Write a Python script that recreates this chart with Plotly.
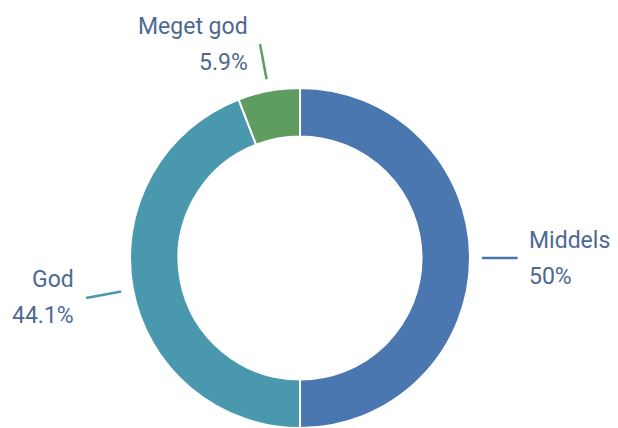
"""Donut chart: rating distribution."""

import math

import plotly.graph_objects as go

labels = ["Middels", "God", "Meget god"]
counts = [17, 15, 2]
colors = ["#4a77b0", "#4a98ad", "#5f9c5f"]

# page body has an 8px margin, so figure px = screen px - 8
W, H = 610, 420
CX, CY, R = 292, 250, 170
TEXT_COLOR = "#4c6a91"

fig = go.Figure()
fig.add_trace(
    go.Pie(
        labels=labels,
        values=counts,
        hole=0.715,
        sort=False,
        direction="clockwise",
        rotation=0,
        textinfo="none",
        hoverinfo="label+percent",
        marker=dict(colors=colors, line=dict(color="white", width=2)),
        domain=dict(x=[(CX - R) / W, (CX + R) / W],
                    y=[(H - CY - R) / H, (H - CY + R) / H]),
        showlegend=False,
    )
)

# leader lines + labels, placed from each slice's mid angle
total = sum(counts)
start = 0.0
for lab, val, col in zip(labels, counts, colors):
    frac = val / total
    mid = (start + frac / 2) * 2 * math.pi
    start += frac
    dx, dy = math.sin(mid), -math.cos(mid)
    x0, y0 = CX + dx * R * 1.07, CY + dy * R * 1.07
    x1, y1 = CX + dx * R * 1.28, CY + dy * R * 1.28
    fig.add_trace(
        go.Scatter(
            x=[x0, x1], y=[y0, y1], mode="lines",
            line=dict(color=col, width=2.5), hoverinfo="skip", showlegend=False,
        )
    )
    right = dx > 0
    pct = f"{frac * 100:.1f}".rstrip("0").rstrip(".") + "%"
    for txt, shift in [(lab, 18), (pct, -18)]:
        fig.add_annotation(
            x=x1, y=y1, text=txt, showarrow=False,
            xanchor="left" if right else "right", yanchor="middle",
            xshift=9 if right else -10, yshift=shift,
            font=dict(family="Roboto", size=23, color=TEXT_COLOR),
        )

fig.update_xaxes(range=[0, W], visible=False, fixedrange=True)
fig.update_yaxes(range=[H, 0], visible=False, fixedrange=True)
fig.update_layout(
    width=W, height=H,
    margin=dict(l=0, r=0, t=0, b=0),
    paper_bgcolor="white", plot_bgcolor="rgba(0,0,0,0)",
)
fig.write_html("out.html")
